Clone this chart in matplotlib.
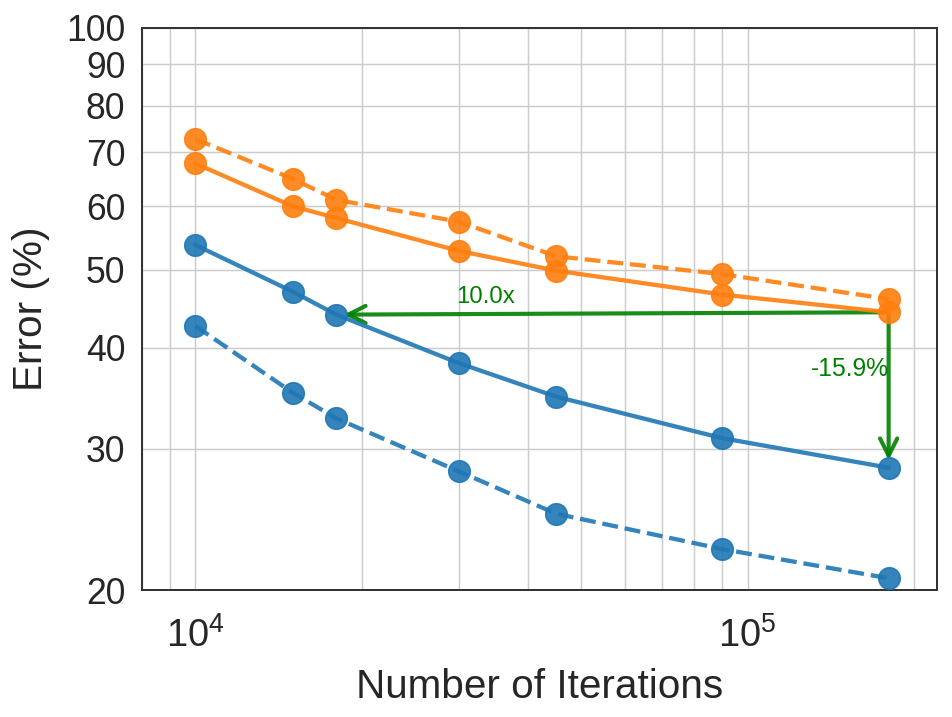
import matplotlib
matplotlib.use('Agg')
import matplotlib.pyplot as plt
from matplotlib.ticker import FixedLocator, ScalarFormatter, NullLocator, LogLocator

plt.rcParams['font.family'] = ['Liberation Sans', 'DejaVu Sans']
plt.rcParams['mathtext.fontset'] = 'custom'
plt.rcParams['mathtext.rm'] = 'Liberation Sans'

# Данные
iters = [1e4, 1.5e4, 1.8e4, 3e4, 4.5e4, 9e4, 1.8e5]
blue_solid = [53.7, 47.0, 44.0, 38.3, 34.8, 30.9, 28.4]
blue_dashed = [42.6, 35.2, 32.7, 28.1, 24.9, 22.5, 20.7]
orange_solid = [67.8, 60.0, 58.0, 52.8, 49.9, 46.6, 44.3]
orange_dashed = [72.7, 64.9, 61.1, 57.4, 52.0, 49.4, 46.0]
y_ticks = [20, 30, 40, 50, 60, 70, 80, 90, 100]

blue = '#1f77b4'
orange = '#ff7f0e'

fig = plt.figure(figsize=(8, 717 / 119), dpi=119)
ax = fig.add_axes([0.149, 0.1767, 0.835, 0.7848])

style = dict(marker='o', markersize=13, lw=2.6, alpha=0.9, zorder=3)
ax.plot(iters, orange_dashed, color=orange, ls='--', **style)
ax.plot(iters, orange_solid, color=orange, ls='-', **style)
ax.plot(iters, blue_solid, color=blue, ls='-', **style)
ax.plot(iters, blue_dashed, color=blue, ls='--', **style)

ax.set_xscale('log')
ax.set_yscale('log')
ax.set_xlim(8e3, 2.2e5)
ax.set_ylim(20, 100)

ax.yaxis.set_major_locator(FixedLocator(y_ticks))
ax.yaxis.set_major_formatter(ScalarFormatter())
ax.yaxis.set_minor_locator(NullLocator())
ax.xaxis.set_minor_locator(LogLocator(base=10, subs=range(2, 10)))

ax.grid(True, which='both', color='0.8', lw=0.9)
ax.set_axisbelow(True)
for sp in ax.spines.values():
    sp.set_color('0.2')
    sp.set_linewidth(1.2)
ax.tick_params(which='both', length=0, labelsize=21.5, colors='0.15')
ax.tick_params(axis='y', pad=10)
ax.tick_params(axis='x', labelsize=23, pad=16)

ax.set_xlabel('Number of Iterations', fontsize=24.5, color='0.15', labelpad=8)
ax.set_ylabel('Error (%)', fontsize=24.5, color='0.15', labelpad=10)

# Стрелки
x_a = iters[2]
x_b = iters[-1]
y_a = blue_solid[2]
y_b = orange_solid[-1]
y_c = blue_solid[-1]
arrow = dict(arrowstyle='->', color='green', lw=2.5, alpha=0.9,
             mutation_scale=26, shrinkA=0, shrinkB=4.5)
ax.annotate('', xy=(x_a, y_a), xytext=(x_b, y_b), arrowprops=arrow, zorder=2)
ax.annotate('', xy=(x_b, y_c), xytext=(x_b, y_b), arrowprops=arrow, zorder=2)
ax.text(3.35e4, 44.9, f'{x_b / x_a:.1f}x', color='green', fontsize=14.5,
        ha='center', va='bottom')
ax.text(x_b, (y_b + y_c) / 2, f'-{y_b - y_c:.1f}%', color='green', fontsize=15,
        ha='right', va='bottom')

fig.savefig('out.png', dpi=119)
